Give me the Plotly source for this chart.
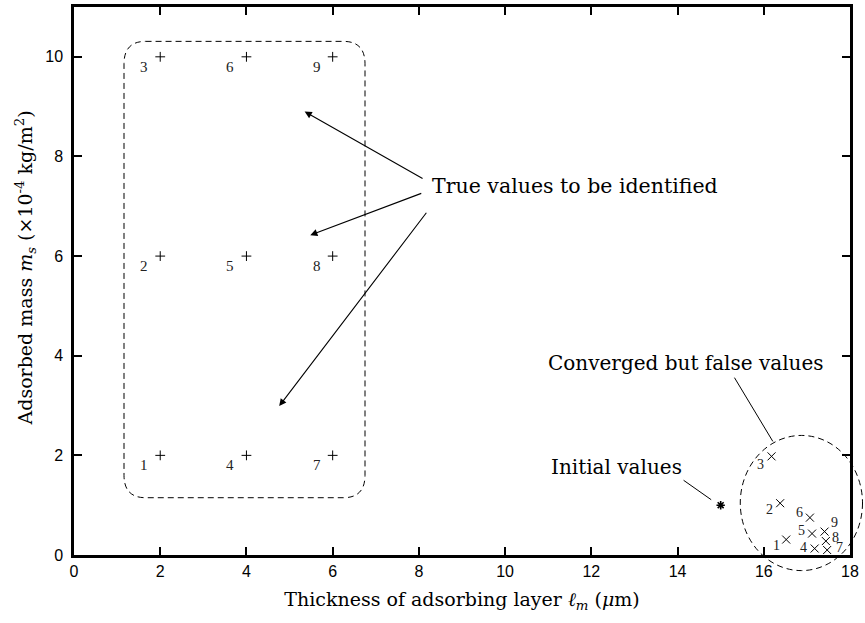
import plotly.graph_objects as go

# ---- data ----
true_x = [2, 2, 2, 4, 4, 4, 6, 6, 6]
true_y = [2, 6, 10, 2, 6, 10, 2, 6, 10]
true_labels = ["1", "2", "3", "4", "5", "6", "7", "8", "9"]

conv_x = [16.52, 16.38, 16.18, 17.18, 17.12, 17.07, 17.47, 17.44, 17.41]
conv_y = [0.31, 1.04, 1.98, 0.13, 0.43, 0.75, 0.10, 0.28, 0.47]
conv_labels = ["1", "2", "3", "4", "5", "6", "7", "8", "9"]

init_x = [15]
init_y = [1]

x_ticks = [0, 2, 4, 6, 8, 10, 12, 14, 16, 18]
y_ticks = [0, 2, 4, 6, 8, 10]

# label pixel offsets (styling)
true_off = [(-16, -10)] * 9
conv_off = [(-10, -6), (-11, -6), (-11, -8), (-11, 1), (-11, 3), (-10, 5),
            (12, 3), (10, 4), (10, 9)]

SERIF = "DejaVu Serif, serif"
DIGIT = "Liberation Serif, serif"
SANS = "Liberation Sans, Arial, sans-serif"

fig = go.Figure()
fig.add_trace(go.Scatter(x=true_x, y=true_y, mode="markers",
                         marker=dict(symbol="cross-thin-open", size=7, color="black",
                                     line=dict(color="black", width=1)),
                         showlegend=False, hoverinfo="skip"))
fig.add_trace(go.Scatter(x=conv_x, y=conv_y, mode="markers",
                         marker=dict(symbol="x-thin-open", size=8, color="black",
                                     line=dict(color="black", width=1)),
                         showlegend=False, hoverinfo="skip"))
fig.add_trace(go.Scatter(x=init_x, y=init_y, mode="markers",
                         marker=dict(symbol="asterisk-open", size=7, color="black",
                                     line=dict(color="black", width=1.6)),
                         showlegend=False, hoverinfo="skip"))

ann = []
for xv, yv, t, (dx, dy) in zip(true_x, true_y, true_labels, true_off):
    ann.append(dict(x=xv, y=yv, text=t, showarrow=False, xshift=dx, yshift=dy,
                    font=dict(family=DIGIT, size=15, color="#222")))
for xv, yv, t, (dx, dy) in zip(conv_x, conv_y, conv_labels, conv_off):
    ann.append(dict(x=xv, y=yv, text=t, showarrow=False, xshift=dx, yshift=dy,
                    font=dict(family=DIGIT, size=14, color="#222")))

# text annotations
ann.append(dict(x=8.25, y=7.41, text="True values to be identified", showarrow=False,
                xanchor="left", yanchor="middle",
                font=dict(family=SERIF, size=20.5, color="black")))
ann.append(dict(x=14.2, y=3.85, text="Converged but false values", showarrow=False,
                xanchor="center", yanchor="middle",
                font=dict(family=SERIF, size=20, color="black")))
ann.append(dict(x=12.58, y=1.76, text="Initial values", showarrow=False,
                xanchor="center", yanchor="middle",
                font=dict(family=SERIF, size=20, color="black")))

# y axis title as rotated annotation
ann.append(dict(x=-0.062, y=0.5245, xref="paper", yref="paper",
                text="Adsorbed mass <i>m</i><sub><i>s</i></sub> (×10<sup>-4</sup> kg/m<sup>2</sup>)",
                textangle=-90, showarrow=False, xanchor="center", yanchor="middle",
                font=dict(family=SERIF, size=19, color="black")))

# arrows
for (hx, hy, tx, ty) in [(5.35, 8.90, 8.12, 7.54), (5.48, 6.42, 8.09, 7.27),
                         (4.76, 2.99, 8.20, 6.90)]:
    ann.append(dict(x=hx, y=hy, ax=tx, ay=ty, xref="x", yref="y", axref="x", ayref="y",
                    text="", showarrow=True, arrowhead=2, arrowsize=1.3,
                    arrowwidth=1.1, arrowcolor="black"))

shapes = []
# pointer lines
shapes.append(dict(type="line", x0=15.32, y0=3.56, x1=16.21, y1=2.28, xref="x", yref="y",
                   line=dict(color="black", width=1)))
shapes.append(dict(type="line", x0=14.14, y0=1.50, x1=14.78, y1=1.11, xref="x", yref="y",
                   line=dict(color="black", width=1)))

# rounded rectangle
x0, x1, y0, y1 = 1.16, 6.75, 1.15, 10.31
rx, ry = 0.50, 0.45
path = (f"M {x0+rx},{y1} L {x1-rx},{y1} Q {x1},{y1} {x1},{y1-ry} "
        f"L {x1},{y0+ry} Q {x1},{y0} {x1-rx},{y0} L {x0+rx},{y0} "
        f"Q {x0},{y0} {x0},{y0+ry} L {x0},{y1-ry} Q {x0},{y1} {x0+rx},{y1} Z")
shapes.append(dict(type="path", path=path, xref="x", yref="y",
                   line=dict(color="black", width=1, dash="6px,4px")))

# dashed circle (paper refs so it is not clipped)
cx0, cx1, cy0, cy1 = 15.455, 18.29, -0.313, 2.40
shapes.append(dict(type="circle", xref="paper", yref="paper",
                   x0=cx0/18, x1=cx1/18, y0=cy0/11, y1=cy1/11,
                   line=dict(color="black", width=1, dash="6px,4px")))

fig.update_layout(
    width=865, height=623,
    margin=dict(l=74, r=15, t=4, b=68),
    plot_bgcolor="white", paper_bgcolor="white",
    annotations=ann, shapes=shapes,
    xaxis=dict(range=[0, 18], tickvals=x_ticks, ticks="inside", ticklen=8, tickwidth=2,
               tickcolor="black", showline=True, linecolor="black", linewidth=2.5,
               mirror="ticks", showgrid=False, zeroline=False,
               tickfont=dict(family=SANS, size=16, color="black"),
               title=dict(text="Thickness of adsorbing layer <i>ℓ</i><sub><i>m</i></sub> (<i>μ</i>m)",
                          font=dict(family=SERIF, size=19, color="black"), standoff=14)),
    yaxis=dict(range=[0, 11], tickvals=y_ticks, ticks="inside", ticklen=8, tickwidth=2,
               tickcolor="black", showline=True, linecolor="black", linewidth=2.5,
               mirror="ticks", showgrid=False, zeroline=False, ticklabelstandoff=5,
               tickfont=dict(family=SANS, size=16, color="black")),
)

fig.write_html("out.html")
